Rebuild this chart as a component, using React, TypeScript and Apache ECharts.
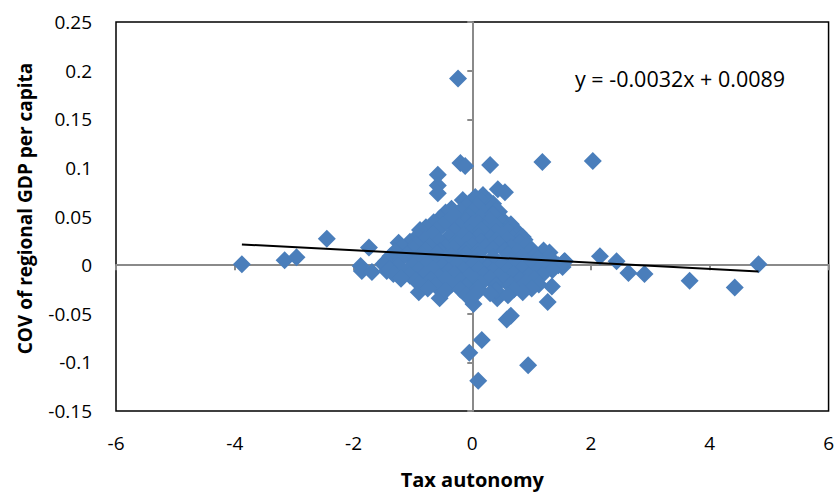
import React, { useEffect, useRef } from "react";
import * as echarts from "echarts";

// Tax autonomy (x) and COV of regional GDP per capita (y)
const taxAutonomy: number[] = [
  // outliers
  -3.88, -3.16, -2.96, -2.45, -1.88, -1.86, -1.74, -1.69, -1.44, -1.24,
  -0.58, -0.58, -0.58, -0.24, -0.2, -0.12, 0.3, 1.18, 2.03, 0.43, 0.55,
  0.88, 1.3, 1.52, 1.56, 2.15, 2.43, 2.63, 2.9, 3.66, 4.42, 4.82, 1.34, 1.27,
  -0.55, 0.58, 0.65, 0.16, -0.05, 0.94, 0.1, 0.02, 0.42, -0.88, -0.9,
  // cluster rows
  -0.16, 0.05, 0.18, 0.28,
  -0.05, 0.15, 0.35,
  -0.35, -0.1, 0.1, 0.3, 0.45,
  -0.45, -0.2, 0.0, 0.2, 0.4,
  -0.55, -0.3, -0.05, 0.15, 0.35, 0.52,
  -0.65, -0.4, -0.1, 0.1, 0.3, 0.5, 0.65,
  -0.78, -0.5, -0.22, 0.0, 0.2, 0.4, 0.6,
  -0.85, -0.6, -0.3, -0.05, 0.15, 0.4, 0.6, 0.78,
  -0.92, -0.66, -0.4, -0.15, 0.1, 0.3, 0.5, 0.68, 0.85,
  -1.05, -0.8, -0.55, -0.3, -0.05, 0.15, 0.4, 0.6, 0.8,
  -1.18, -0.95, -0.72, -0.45, -0.25, 0.0, 0.22, 0.45, 0.65, 0.92,
  -1.3, -1.0, -0.8, -0.55, -0.3, -0.1, 0.1, 0.35, 0.55, 0.75, 1.0, 1.2,
  -1.38, -1.1, -0.85, -0.6, -0.35, -0.1, 0.1, 0.35, 0.6, 0.85, 1.05, 1.28,
  -1.45, -1.2, -0.95, -0.7, -0.45, -0.15, 0.1, 0.35, 0.65, 0.9, 1.1, 1.35, 1.55,
  -1.5, -1.25, -1.0, -0.76, -0.5, -0.25, 0.0, 0.25, 0.5, 0.75, 1.0, 1.2, 1.45,
  -1.4, -1.15, -0.9, -0.65, -0.4, -0.15, 0.1, 0.35, 0.6, 0.85, 1.1, 1.35,
  -1.33, -1.05, -0.8, -0.55, -0.3, -0.05, 0.2, 0.45, 0.7, 0.95, 1.18,
  -1.2, -0.95, -0.7, -0.45, -0.2, 0.05, 0.3, 0.55, 0.8, 1.05,
  -0.9, -0.62, -0.35, -0.1, 0.15, 0.4, 0.65, 0.9, 1.12,
  -0.75, -0.45, -0.2, 0.1, 0.4, 0.7, 1.0,
  -0.1, 0.05, 0.3, 0.6, 0.85,
];

const regionalGdpCov: number[] = [
  // outliers
  0.001, 0.005, 0.008, 0.027, -0.001, -0.006, 0.018, -0.007, -0.006, 0.023,
  0.093, 0.082, 0.074, 0.192, 0.105, 0.102, 0.103, 0.106, 0.107, 0.078, 0.075,
  0.026, 0.013, -0.002, 0.004, 0.009, 0.004, -0.008, -0.009, -0.016, -0.023, 0.001, -0.022, -0.038,
  -0.034, -0.056, -0.052, -0.077, -0.09, -0.103, -0.119, -0.04, -0.034, 0.036, -0.028,
  // cluster rows
  0.067, 0.07, 0.072, 0.066,
  0.064, 0.066, 0.063,
  0.058, 0.061, 0.06, 0.057, 0.055,
  0.054, 0.056, 0.055, 0.053, 0.056,
  0.048, 0.051, 0.05, 0.049, 0.052, 0.046,
  0.044, 0.046, 0.045, 0.043, 0.046, 0.044, 0.042,
  0.039, 0.041, 0.04, 0.042, 0.038, 0.04, 0.037,
  0.034, 0.036, 0.035, 0.033, 0.036, 0.034, 0.035, 0.033,
  0.03, 0.032, 0.029, 0.031, 0.03, 0.028, 0.031, 0.027, 0.029,
  0.024, 0.026, 0.025, 0.023, 0.026, 0.024, 0.025, 0.026, 0.023,
  0.019, 0.021, 0.02, 0.018, 0.022, 0.02, 0.019, 0.021, 0.018, 0.02,
  0.014, 0.016, 0.015, 0.014, 0.016, 0.015, 0.014, 0.016, 0.015, 0.014, 0.016, 0.015,
  0.009, 0.011, 0.01, 0.012, 0.009, 0.011, 0.01, 0.008, 0.011, 0.009, 0.01, 0.008,
  0.004, 0.006, 0.005, 0.004, 0.006, 0.005, 0.004, 0.006, 0.005, 0.004, 0.006, 0.005, 0.004,
  0.001, -0.001, 0.0, 0.002, -0.001, 0.001, 0.0, -0.002, 0.001, 0.0, -0.001, 0.001, 0.0,
  -0.004, -0.006, -0.005, -0.004, -0.006, -0.005, -0.004, -0.006, -0.005, -0.004, -0.006, -0.005,
  -0.009, -0.011, -0.01, -0.012, -0.009, -0.011, -0.01, -0.012, -0.009, -0.011, -0.01,
  -0.014, -0.016, -0.015, -0.014, -0.016, -0.015, -0.014, -0.016, -0.015, -0.014,
  -0.019, -0.021, -0.02, -0.022, -0.019, -0.021, -0.02, -0.018, -0.02,
  -0.024, -0.026, -0.025, -0.024, -0.026, -0.025, -0.024,
  -0.031, -0.03, -0.029, -0.031, -0.028,
];

const xTicks = { min: -6, max: 6, interval: 2 };
const yTicks = { min: -0.15, max: 0.25, interval: 0.05 };

const trendSlope = -0.0032;
const trendIntercept = 0.0089;
const equationText = "y = -0.0032x + 0.0089";
const xAxisTitle = "Tax autonomy";
const yAxisTitle = "COV of regional GDP per capita";

const FONT = "'Open Sans', 'Noto Sans', sans-serif";

export default function App() {
  const ref = useRef<HTMLDivElement>(null);

  useEffect(() => {
    if (!ref.current) return;
    const chart = echarts.init(ref.current, undefined, { renderer: "svg" });

    const points = taxAutonomy.map((x, i) => [x, regionalGdpCov[i]]);
    const xMin = Math.min(...taxAutonomy);
    const xMax = Math.max(...taxAutonomy);
    const trend = [
      [xMin, trendSlope * xMin + trendIntercept],
      [xMax, trendSlope * xMax + trendIntercept],
    ];

    const labelStyle = { color: "#000", fontSize: 19, fontFamily: FONT };

    chart.setOption({
      animation: false,
      backgroundColor: "#fff",
      grid: {
        left: 116,
        right: 8,
        top: 22,
        bottom: 82,
        show: true,
        borderColor: "#000",
        borderWidth: 1.5,
        backgroundColor: "transparent",
      },
      xAxis: [
        {
          type: "value",
          ...xTicks,
          axisLine: { onZero: true, lineStyle: { color: "#8a8a8a", width: 2 } },
          axisTick: { show: true, length: 5, lineStyle: { color: "#8a8a8a", width: 2 } },
          axisLabel: { show: false },
          splitLine: { show: false },
        },
        {
          type: "value",
          ...xTicks,
          position: "bottom",
          axisLine: { show: false, onZero: false },
          axisTick: { show: false },
          axisLabel: { ...labelStyle, margin: 22 },
          splitLine: { show: false },
          name: xAxisTitle,
          nameLocation: "middle",
          nameGap: 58,
          nameTextStyle: { color: "#000", fontSize: 20, fontWeight: "bold", fontFamily: FONT },
        },
      ],
      yAxis: [
        {
          type: "value",
          ...yTicks,
          axisLine: { onZero: true, lineStyle: { color: "#8a8a8a", width: 2 } },
          axisTick: { show: true, length: 5, lineStyle: { color: "#8a8a8a", width: 2 } },
          axisLabel: { show: false },
          splitLine: { show: false },
        },
        {
          type: "value",
          ...yTicks,
          position: "left",
          axisLine: { show: false, onZero: false },
          axisTick: { show: false },
          axisLabel: {
            ...labelStyle,
            margin: 24,
            formatter: (v: number) => String(Math.round(v * 100) / 100),
          },
          splitLine: { show: false },
          name: yAxisTitle,
          nameLocation: "middle",
          nameGap: 82,
          nameRotate: 90,
          nameTextStyle: {
            color: "#000",
            fontSize: 19,
            fontWeight: "bold",
            fontFamily: FONT,
            padding: [0, 0, 0, 16],
          },
        },
      ],
      series: [
        {
          type: "scatter",
          xAxisIndex: 0,
          yAxisIndex: 0,
          symbol: "diamond",
          symbolSize: 18,
          itemStyle: { color: "#4A7EBB", opacity: 1 },
          data: points,
          z: 3,
        },
        {
          type: "line",
          xAxisIndex: 0,
          yAxisIndex: 0,
          data: trend,
          showSymbol: false,
          symbol: "none",
          lineStyle: { color: "#000", width: 2 },
          z: 4,
        },
      ],
      graphic: [
        {
          type: "text",
          left: 575,
          top: 67,
          style: { text: equationText, fill: "#000", fontSize: 21.5, fontFamily: FONT },
        },
      ],
    });

    return () => chart.dispose();
  }, []);

  return (
    <div
      ref={ref}
      style={{ position: "absolute", left: 0, top: 0, width: 837, height: 494 }}
    />
  );
}
